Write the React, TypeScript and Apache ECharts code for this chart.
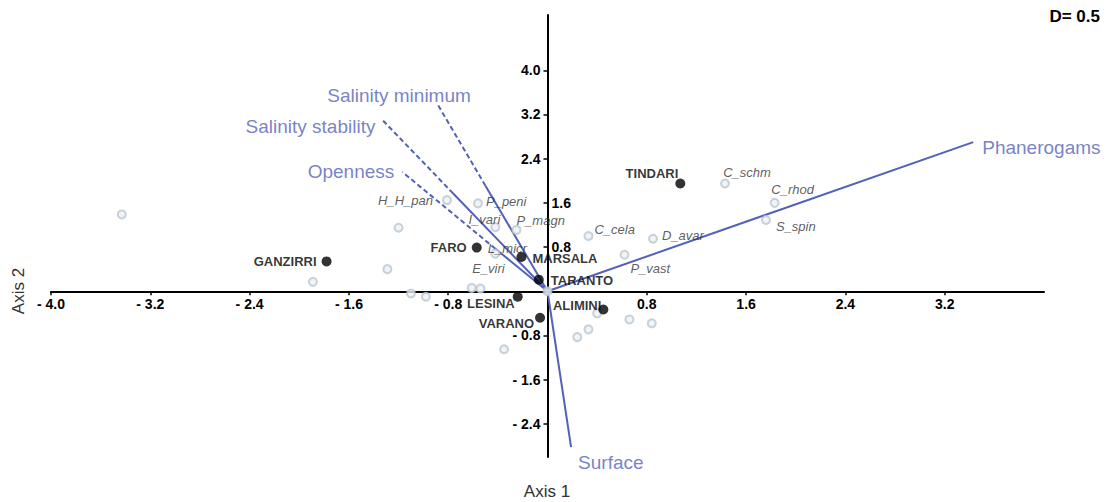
import React, { useEffect, useRef } from "react";
import * as echarts from "echarts";

// ---- data ----
const siteNames = ["GANZIRRI", "FARO", "MARSALA", "TARANTO", "LESINA", "VARANO", "ALIMINI", "TINDARI"];
const siteX = [-1.78, -0.57, -0.21, -0.07, -0.24, -0.06, 0.45, 1.07];
const siteY = [0.54, 0.79, 0.62, 0.21, -0.1, -0.48, -0.33, 1.95];

const speciesNames = [
  "", "H_H_pan", "P_peni", "", "I_vari", "P_magn", "L_micr", "", "", "", "E_viri", "", "", "",
  "C_cela", "D_avar", "P_vast", "C_schm", "C_rhod", "S_spin", "", "", "", "", "", "",
];
const speciesX = [
  -3.43, -0.81, -0.56, -1.2, -0.42, -0.25, -0.42, -1.29, -1.89, -0.61, -0.54, -1.1, -0.98, 0.0,
  0.33, 0.85, 0.62, 1.43, 1.83, 1.76, 0.4, 0.66, 0.84, 0.33, 0.24, -0.35,
];
const speciesY = [
  1.39, 1.65, 1.59, 1.15, 1.16, 1.11, 0.68, 0.4, 0.17, 0.06, 0.05, -0.04, -0.1, 0.0,
  1.0, 0.95, 0.66, 1.95, 1.6, 1.29, -0.4, -0.51, -0.58, -0.69, -0.83, -1.05,
];

const vectorNames = ["Salinity minimum", "Salinity stability", "Openness", "Phanerogams", "Surface"];
const vectorTipX = [-0.5, -0.76, -0.42, 3.43, 0.19];
const vectorTipY = [1.91, 1.77, 0.77, 2.7, -2.82];
// dashed extensions (null = none)
const vectorExtX: (number | null)[] = [-0.89, -1.33, -1.17, null, null];
const vectorExtY: (number | null)[] = [3.4, 3.1, 2.16, null, null];

const xTickValues = [-4.0, -3.2, -2.4, -1.6, -0.8, 0.8, 1.6, 2.4, 3.2];
const yTickValues = [-2.4, -1.6, -0.8, 0.8, 1.6, 2.4, 3.2, 4.0];
const yLeftLabelValues = [-2.4, -1.6, -0.8, 2.4, 3.2, 4.0];
const yRightLabelValues = [0.8, 1.6];

// ---- layout of labels (pixel offsets from the point) ----
const speciesLabelLayout: Record<string, [number, number, string]> = {
  H_H_pan: [-14, 0, "right"],
  P_peni: [8, -2, "left"],
  I_vari: [-11, -8, "center"],
  P_magn: [0, -9, "left"],
  L_micr: [12, -5, "center"],
  E_viri: [8, -20, "center"],
  C_cela: [6, -7, "left"],
  D_avar: [9, -3, "left"],
  P_vast: [6, 14, "left"],
  C_schm: [22, -11, "center"],
  C_rhod: [18, -13, "center"],
  S_spin: [10, 7, "left"],
};
const siteLabelLayout: Record<string, [number, number, string]> = {
  GANZIRRI: [-10, 0, "right"],
  FARO: [-10, 0, "right"],
  MARSALA: [11, 2, "left"],
  TARANTO: [12, 1, "left"],
  LESINA: [-3, 7, "right"],
  VARANO: [-6, 6, "right"],
  ALIMINI: [-2, -4, "right"],
  TINDARI: [-2, -10, "right"],
};
const vectorLabelLayout: Record<string, [number, number, string]> = {
  "Salinity minimum": [-38, -8, "center"],
  "Salinity stability": [-7, 7, "right"],
  Openness: [-8, 0, "right"],
  Phanerogams: [9, 5, "left"],
  Surface: [7, 15, "left"],
};

const FONT = "'Liberation Sans', Arial, Helvetica, sans-serif";
const BLUE = "#5362b8";
const GRID = { left: 51, right: 65, top: 15, bottom: 45 };
const W = 1109;
const H = 502;

function labelAt(dx: number, dy: number, align: string) {
  return {
    show: true,
    position: ["50%", "50%"],
    offset: [dx, dy],
    align,
    verticalAlign: "middle",
  };
}

const fmt = (v: number) => (v < 0 ? "- " + Math.abs(v).toFixed(1) : v.toFixed(1));

export default function App() {
  const ref = useRef<HTMLDivElement>(null);
  useEffect(() => {
    if (!ref.current) return;
    const chart = echarts.init(ref.current, undefined, { renderer: "svg" });

    const lineSeries: any[] = [];
    vectorNames.forEach((n, i) => {
      lineSeries.push({
        type: "line",
        name: n,
        data: [
          [0, 0],
          [vectorTipX[i], vectorTipY[i]],
        ],
        showSymbol: false,
        symbol: "none",
        silent: true,
        lineStyle: { color: BLUE, width: 2, type: "solid" },
        z: 3,
      });
      if (vectorExtX[i] !== null) {
        lineSeries.push({
          type: "line",
          name: n + " ext",
          data: [
            [vectorTipX[i], vectorTipY[i]],
            [vectorExtX[i], vectorExtY[i]],
          ],
          showSymbol: false,
          symbol: "none",
          silent: true,
          lineStyle: { color: BLUE, width: 2, type: [5, 3] },
          z: 3,
        });
      }
    });

    const speciesData = speciesNames.map((n, i) => {
      const item: any = { value: [speciesX[i], speciesY[i]], name: n };
      const l = speciesLabelLayout[n];
      if (n && l) {
        item.label = { ...labelAt(l[0], l[1], l[2]), formatter: n };
      } else {
        item.label = { show: false };
      }
      return item;
    });

    const siteData = siteNames.map((n, i) => {
      const l = siteLabelLayout[n];
      return {
        value: [siteX[i], siteY[i]],
        name: n,
        label: { ...labelAt(l[0], l[1], l[2]), formatter: n },
      };
    });

    const vectorLabelData = vectorNames.map((n, i) => {
      const l = vectorLabelLayout[n];
      const x = vectorExtX[i] !== null ? vectorExtX[i] : vectorTipX[i];
      const y = vectorExtY[i] !== null ? vectorExtY[i] : vectorTipY[i];
      return {
        value: [x, y],
        name: n,
        label: { ...labelAt(l[0], l[1], l[2]), formatter: n },
      };
    });

    const axisText = { color: "#000", fontWeight: "bold", fontSize: 14, fontFamily: FONT };

    chart.setOption({
      animation: false,
      backgroundColor: "#fff",
      grid: { ...GRID, containLabel: false },
      xAxis: {
        type: "value",
        min: -4,
        max: 4,
        position: "bottom",
        offset: 0,
        axisLine: { onZero: false, lineStyle: { color: "#000", width: 2 } },
        axisTick: { show: true, customValues: xTickValues, length: 4, lineStyle: { color: "#000", width: 1.5 } },
        axisLabel: { customValues: xTickValues, formatter: fmt, margin: 6, ...axisText },
        splitLine: { show: false },
      },
      yAxis: [
        {
          type: "value",
          min: -3,
          max: 5,
          position: "left",
          offset: 0,
          axisLine: { onZero: false, lineStyle: { color: "#000", width: 2 } },
          axisTick: { show: true, customValues: yTickValues, length: 4, lineStyle: { color: "#000", width: 1.5 } },
          axisLabel: { customValues: yLeftLabelValues, formatter: fmt, margin: 7, ...axisText },
          splitLine: { show: false },
        },
        {
          type: "value",
          min: -3,
          max: 5,
          position: "left",
          offset: 0,
          axisLine: { show: false, onZero: false },
          axisTick: { show: false },
          axisLabel: { customValues: yRightLabelValues, formatter: fmt, inside: true, align: "left", margin: 4, ...axisText },
          splitLine: { show: false },
        },
      ],
      graphic: [
        {
          type: "text",
          x: 547,
          y: 491,
          style: { text: "Axis 1", fontSize: 17, fill: "#333", fontFamily: FONT, align: "center", verticalAlign: "middle" },
        },
        {
          type: "text",
          x: 18,
          y: 291,
          rotation: Math.PI / 2,
          style: { text: "Axis 2", fontSize: 17, fill: "#333", fontFamily: FONT, align: "center", verticalAlign: "middle" },
        },
        {
          type: "text",
          x: 1100,
          y: 16,
          style: { text: "D= 0.5", fontSize: 17, fontWeight: "bold", fill: "#000", fontFamily: FONT, align: "right", verticalAlign: "middle" },
        },
      ],
      series: [
        ...lineSeries,
        {
          type: "scatter",
          name: "species",
          data: speciesData,
          symbol: "circle",
          symbolSize: 8,
          silent: true,
          itemStyle: { color: "#eef1f5", borderColor: "#bcc5cf", borderWidth: 2 },
          label: { fontSize: 13, fontStyle: "italic", color: "#333", fontFamily: FONT },
          z: 4,
        },
        {
          type: "scatter",
          name: "sites",
          data: siteData,
          symbol: "circle",
          symbolSize: 10,
          silent: true,
          itemStyle: { color: "#000" },
          label: { fontSize: 13, fontWeight: "bold", color: "#000", fontFamily: FONT },
          z: 5,
        },
        {
          type: "scatter",
          name: "vectorLabels",
          data: vectorLabelData,
          symbol: "circle",
          symbolSize: 1,
          silent: true,
          itemStyle: { color: "rgba(0,0,0,0)" },
          label: { fontSize: 19, color: BLUE, fontFamily: FONT },
          z: 6,
        },
      ],
    });

    // move the axes so they cross at the origin (computed through the chart's own scales)
    const o = chart.convertToPixel({ xAxisIndex: 0, yAxisIndex: 0 }, [0, 0]) as number[];
    if (o && isFinite(o[0]) && isFinite(o[1])) {
      const gridBottom = H - GRID.bottom;
      const gridLeft = GRID.left;
      chart.setOption({
        xAxis: { offset: -(gridBottom - o[1]) },
        yAxis: [{ offset: -(o[0] - gridLeft) }, { offset: -(o[0] - gridLeft) }],
      });
    }

    return () => chart.dispose();
  }, []);

  return (
    <div
      ref={ref}
      style={{ position: "fixed", left: 0, top: 0, width: W, height: H, background: "#fff" }}
    />
  );
}
